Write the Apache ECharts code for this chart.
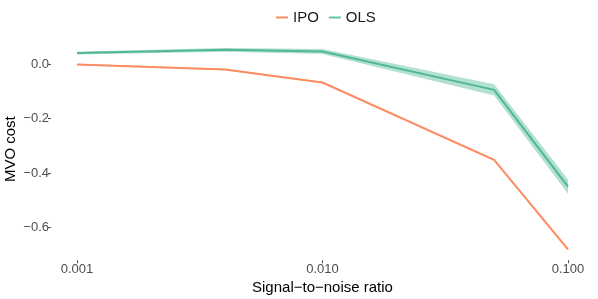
<!DOCTYPE html>
<html><head><meta charset="utf-8">
<script src="https://cdn.jsdelivr.net/npm/echarts@6/dist/echarts.min.js"></script>
<style>html,body{margin:0;padding:0;background:#fff}#c{width:598px;height:299px}</style>
</head><body><div id="c"></div>
<script>
var snr = [0.001, 0.004, 0.01, 0.05, 0.1];
var ipoMean = [-0.002, -0.020, -0.068, -0.352, -0.680];
var ipoLow  = [-0.005, -0.023, -0.071, -0.356, -0.685];
var ipoHigh = [0.001, -0.017, -0.065, -0.348, -0.675];
var olsMean = [0.040, 0.052, 0.046, -0.095, -0.450];
var olsLow  = [0.035, 0.045, 0.037, -0.116, -0.476];
var olsHigh = [0.045, 0.059, 0.055, -0.074, -0.424];
var yTicks = [-0.6, -0.4, -0.2, 0.0];

var ORANGE = '#fc8d62', GREEN = '#66c2a5';
function pts(ys){ return snr.map(function(x,i){ return [x, ys[i]]; }); }
var FONT = 'Liberation Sans, Arial, sans-serif';

function band(low, high, color, opacity){
  return {
    type: 'custom', silent: true, z: 1,
    data: [[snr[0], low[0]]],
    encode: {x: 0, y: 1},
    renderItem: function(params, api){
      var poly = [];
      for (var i = 0; i < snr.length; i++) poly.push(api.coord([snr[i], high[i]]));
      for (var j = snr.length - 1; j >= 0; j--) poly.push(api.coord([snr[j], low[j]]));
      return {type: 'polygon', shape: {points: poly},
              style: {fill: color, opacity: opacity}};
    }
  };
}

var chart = echarts.init(document.getElementById('c'), null, {renderer:'canvas'});
chart.setOption({
  animation: false,
  textStyle: {fontFamily: FONT},
  legend: {
    top: 5, left: 271,
    itemWidth: 12, itemHeight: 2, itemGap: 10,
    textStyle: {fontSize: 15, color: '#1a1a1a', fontFamily: FONT},
    data: [{name:'IPO', icon:'rect', itemStyle:{color:ORANGE}},
           {name:'OLS', icon:'rect', itemStyle:{color:GREEN}}]
  },
  grid: {left: 77, right: 30, top: 38.1, bottom: 38.8, containLabel: false, outerBoundsMode: 'none'},
  xAxis: {
    type: 'log', logBase: 10, min: 0.001, max: 0.1,
    name: 'Signal\u2212to\u2212noise ratio', nameLocation: 'middle', nameGap: 20, nameMoveOverlap: false,
    nameTextStyle: {fontSize: 15, color: '#000', fontFamily: FONT},
    axisLine: {show: false, onZero: false},
    axisTick: {show: true, length: 3, lineStyle: {color: '#4d4d4d'}},
    axisLabel: {margin: 3, fontSize: 13, color: '#4d4d4d', fontFamily: FONT,
      formatter: function(v){ return Number(v).toFixed(3); }},
    splitLine: {show: false}, minorTick: {show: false}
  },
  yAxis: {
    type: 'value', min: -0.72, max: 0.095, offset: 26,
    name: 'MVO cost', nameLocation: 'middle', nameGap: 33, nameRotate: 90, nameMoveOverlap: false,
    nameTextStyle: {fontSize: 15, color: '#000', fontFamily: FONT},
    axisLine: {show: false, onZero: false},
    axisTick: {show: true, length: 3, customValues: yTicks, lineStyle: {color: '#4d4d4d'}},
    axisLabel: {margin: 2, fontSize: 13, color: '#4d4d4d', fontFamily: FONT, customValues: yTicks,
      formatter: function(v){ return Number(v).toFixed(1).replace('-', '\u2212'); }},
    splitLine: {show: false}
  },
  series: [
    band(ipoLow, ipoHigh, ORANGE, 0.35),
    band(olsLow, olsHigh, GREEN, 0.5),
    {name:'IPO', type:'line', data: pts(ipoMean), symbol:'none', color: ORANGE, z: 3,
     lineStyle:{color:ORANGE, width:2}},
    {name:'OLS', type:'line', data: pts(olsMean), symbol:'none', color: GREEN, z: 3,
     lineStyle:{color:'#52b891', width:2}}
  ]
});
</script></body></html>
